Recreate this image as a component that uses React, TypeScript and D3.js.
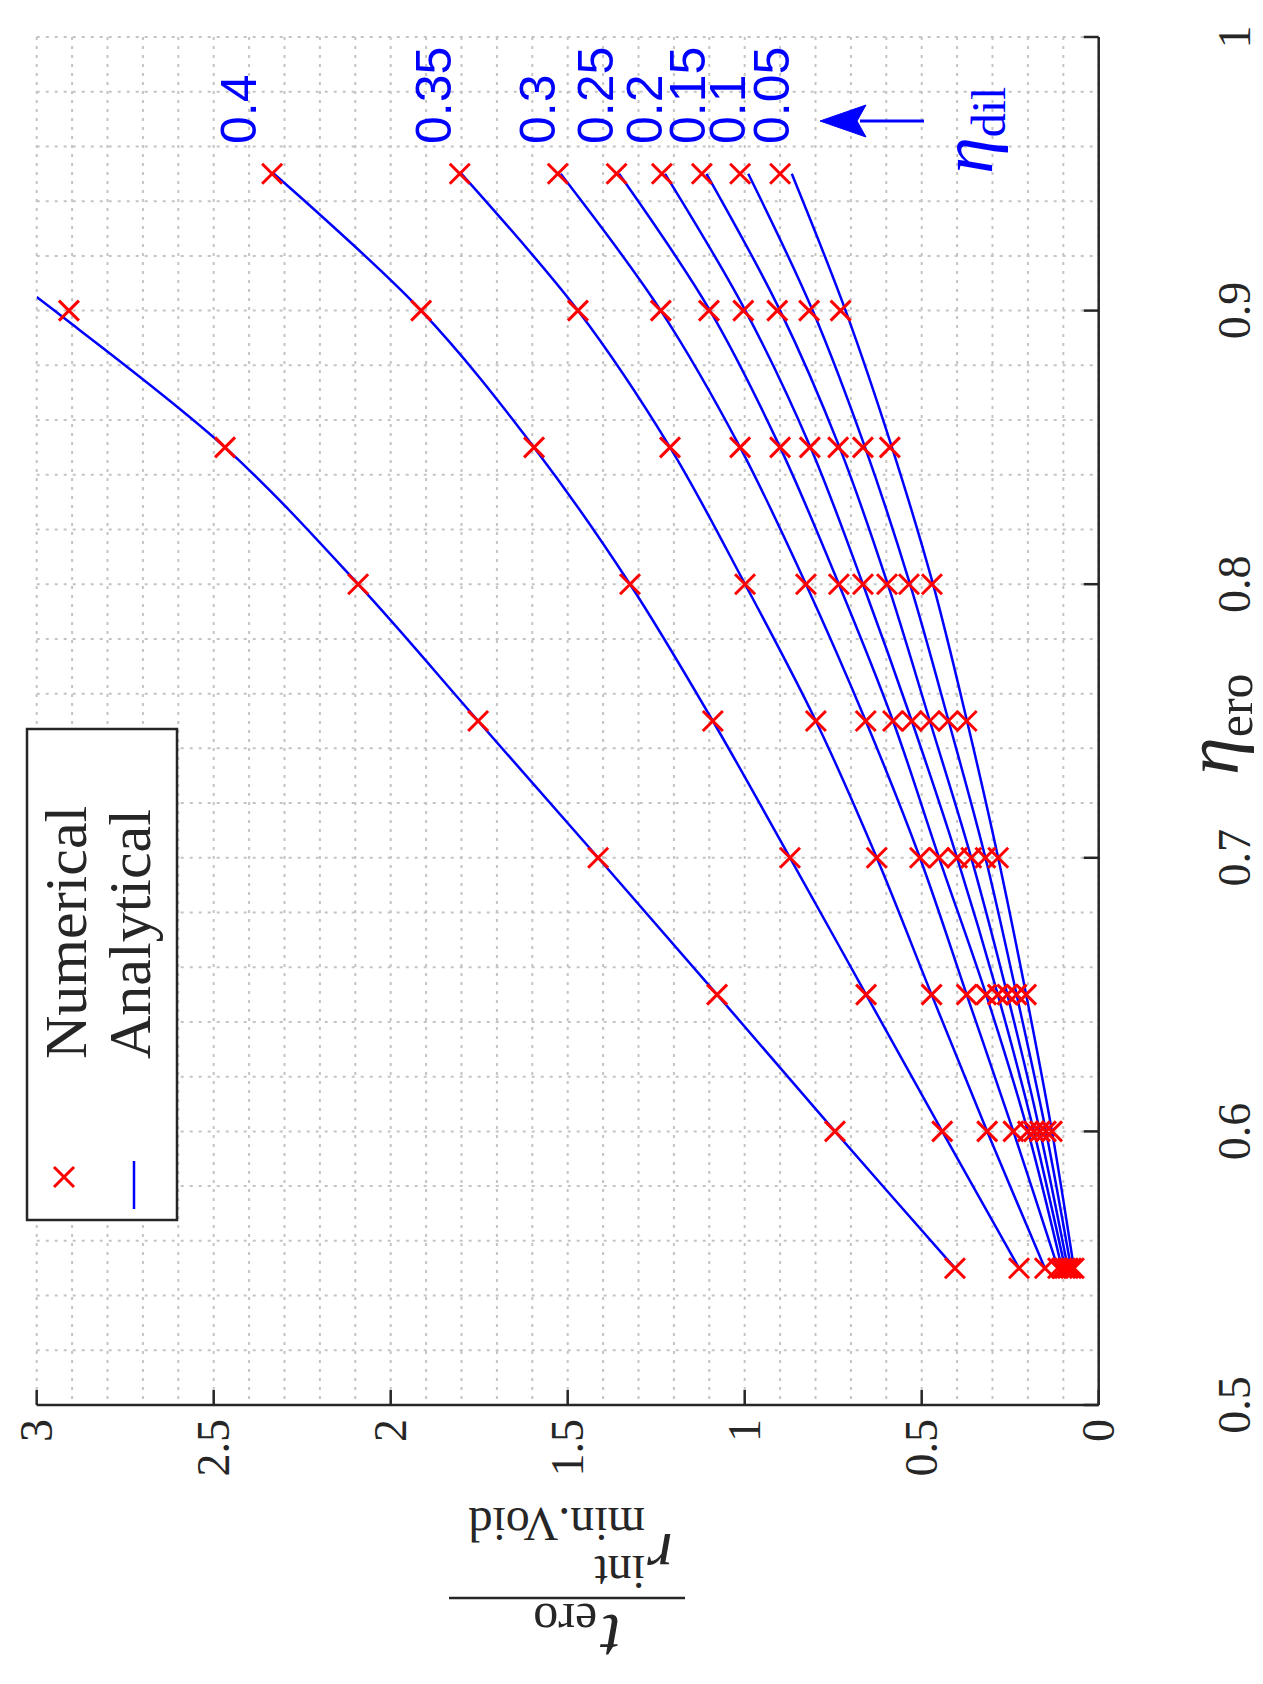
import React, { useEffect } from "react";
import * as d3 from "d3";

// ---------------- data ----------------
const etaEro = [0.55, 0.6, 0.65, 0.7, 0.75, 0.8, 0.85, 0.9, 0.95];
const etaTicks = [0.5, 0.6, 0.7, 0.8, 0.9, 1];
const valueTicks = [0, 0.5, 1, 1.5, 2, 2.5, 3];
const etaTickLabels = ["0.5", "0.6", "0.7", "0.8", "0.9", "1"];
const valueTickLabels = ["0", "0.5", "1", "1.5", "2", "2.5", "3"];

const dilLabels = ["0.4", "0.35", "0.3", "0.25", "0.2", "0.15", "0.1", "0.05"];
const dilLabelValue = [2.38, 1.829, 1.536, 1.372, 1.234, 1.112, 0.998, 0.875];

// numerical results (red crosses), one array per eta_dil
const num045 = [0.406, 0.745, 1.078, 1.414, 1.753, 2.092, 2.468, 2.909];
const num040 = [0.225, 0.442, 0.657, 0.872, 1.09, 1.324, 1.595, 1.914, 2.335];
const num035 = [0.152, 0.315, 0.472, 0.627, 0.799, 0.999, 1.211, 1.471, 1.805];
const num030 = [0.115, 0.241, 0.373, 0.505, 0.658, 0.827, 1.013, 1.237, 1.528];
const num025 = [0.104, 0.2, 0.318, 0.451, 0.581, 0.734, 0.9, 1.101, 1.362];
const num020 = [0.095, 0.183, 0.285, 0.4, 0.528, 0.666, 0.816, 1.004, 1.234];
const num015 = [0.087, 0.166, 0.258, 0.36, 0.477, 0.598, 0.736, 0.908, 1.121];
const num010 = [0.078, 0.149, 0.232, 0.32, 0.425, 0.536, 0.666, 0.818, 1.013];
const num005 = [0.07, 0.132, 0.205, 0.284, 0.373, 0.471, 0.59, 0.729, 0.9];

// analytical results (blue lines)
const ana045Eta = [0.55, 0.6, 0.65, 0.7, 0.75, 0.8, 0.85, 0.9, 0.905];
const ana045 = [0.406, 0.745, 1.078, 1.414, 1.753, 2.092, 2.468, 2.95, 3.0];
const ana040 = [0.225, 0.442, 0.657, 0.872, 1.09, 1.324, 1.595, 1.914, 2.33];
const ana035 = [0.152, 0.315, 0.472, 0.627, 0.799, 0.999, 1.211, 1.471, 1.8];
const ana030 = [0.115, 0.241, 0.373, 0.505, 0.658, 0.827, 1.013, 1.237, 1.52];
const ana025 = [0.104, 0.2, 0.318, 0.451, 0.581, 0.734, 0.9, 1.098, 1.355];
const ana020 = [0.095, 0.183, 0.285, 0.4, 0.528, 0.666, 0.814, 0.998, 1.225];
const ana015 = [0.087, 0.166, 0.258, 0.36, 0.477, 0.596, 0.732, 0.9, 1.108];
const ana010 = [0.078, 0.149, 0.232, 0.32, 0.424, 0.533, 0.66, 0.808, 0.99];
const ana005 = [0.07, 0.132, 0.205, 0.284, 0.372, 0.468, 0.584, 0.715, 0.867];

const numSeries = [num045, num040, num035, num030, num025, num020, num015, num010, num005];
const anaSeries = [ana040, ana035, ana030, ana025, ana020, ana015, ana010, ana005];

// ---------------- layout ----------------
const W = 1263;
const H = 1684;
const PL = 36.7, PR = 1098.7, PT = 37, PB = 1405;

const xV = d3.scaleLinear().domain([0, 3]).range([PR, PL]);
const yE = d3.scaleLinear().domain([0.5, 1]).range([PB, PT]);

const RED = "#ff0000";
const BLUE = "#0000ff";
const AX = "#262626";
const GRID = "#c4c4c4";
const SERIF = "'Liberation Serif', 'DejaVu Serif', serif";
const SANS = "'Liberation Sans', Arial, sans-serif";

const lineGen = d3
  .line<[number, number]>()
  .x((d) => xV(d[0]))
  .y((d) => yE(d[1]))
  .curve(d3.curveCatmullRom.alpha(0.5));

function Cross({ cx, cy, s = 10 }: { cx: number; cy: number; s?: number }) {
  return (
    <g stroke={RED} strokeWidth={3}>
      <line x1={cx - s} y1={cy - s} x2={cx + s} y2={cy + s} />
      <line x1={cx - s} y1={cy + s} x2={cx + s} y2={cy - s} />
    </g>
  );
}

export default function App() {
  useEffect(() => {
    document.body.style.margin = "0";
  }, []);

  const vGrid = d3.range(0, 31).map((i) => i / 10);
  const hGrid = d3.range(0, 26).map((i) => 0.5 + i * 0.02);

  const anaPaths: string[] = [];
  anaPaths.push(lineGen(ana045.map((v, i) => [v, ana045Eta[i]] as [number, number])) || "");
  anaSeries.forEach((s) => {
    anaPaths.push(lineGen(s.map((v, i) => [v, etaEro[i]] as [number, number])) || "");
  });

  return (
    <svg width={W} height={H} style={{ display: "block", background: "#fff" }}>
      <defs>
        <clipPath id="plotclip">
          <rect x={PL} y={PT} width={PR - PL} height={PB - PT} />
        </clipPath>
      </defs>
      <rect x={0} y={0} width={W} height={H} fill="#fff" />

      {/* grid */}
      <g stroke={GRID} strokeWidth={2} strokeDasharray="3,6">
        {vGrid.map((v, i) => (
          <line key={"vg" + i} x1={xV(v)} x2={xV(v)} y1={PT} y2={PB} />
        ))}
        {hGrid.map((e, i) => (
          <line key={"hg" + i} x1={PL} x2={PR} y1={yE(e)} y2={yE(e)} />
        ))}
      </g>

      {/* analytical curves */}
      <g clipPath="url(#plotclip)" fill="none" stroke={BLUE} strokeWidth={2.5}>
        {anaPaths.map((p, i) => (
          <path key={"ap" + i} d={p} />
        ))}
      </g>

      {/* numerical markers */}
      <g clipPath="url(#plotclip)">
        {numSeries.map((s, si) =>
          s.map((v, i) => <Cross key={`m${si}-${i}`} cx={xV(v)} cy={yE(etaEro[i])} />)
        )}
      </g>

      {/* axes */}
      <g stroke={AX} strokeWidth={2.5}>
        <line x1={PR} x2={PR} y1={PT} y2={PB} />
        <line x1={PL} x2={PR} y1={PB} y2={PB} />
        {etaTicks.map((t, i) => (
          <line key={"et" + i} x1={PR} x2={PR - 15} y1={yE(t)} y2={yE(t)} />
        ))}
        {valueTicks.map((t, i) => (
          <line key={"vt" + i} x1={xV(t)} x2={xV(t)} y1={PB} y2={PB - 15} />
        ))}
      </g>

      {/* tick labels */}
      <g fontFamily={SERIF} fontSize={46} fill={AX}>
        {etaTicks.map((t, i) => (
          <text
            key={"etl" + i}
            transform={`translate(${1250},${yE(t)}) rotate(-90)`}
            textAnchor="middle"
          >
            {etaTickLabels[i]}
          </text>
        ))}
        {valueTicks.map((t, i) => (
          <text
            key={"vtl" + i}
            transform={`translate(${xV(t)},${PB + 14}) rotate(-90)`}
            textAnchor="end"
            dy="0.33em"
          >
            {valueTickLabels[i]}
          </text>
        ))}
      </g>

      {/* eta_ero axis label */}
      <text transform={`translate(1238,775) rotate(-90)`} fontFamily={SERIF} fill={AX}>
        <tspan fontStyle="italic" fontSize={76}>η</tspan>
        <tspan fontSize={50} dy={14}>ero</tspan>
      </text>

      {/* y-label: fraction, upside down */}
      <g transform={`translate(567,1598) rotate(180)`} fontFamily={SERIF} fill={AX}>
        <line x1={-118} x2={118} y1={0} y2={0} stroke={AX} strokeWidth={2.5} />
        <text x={-10} y={-17} textAnchor="middle">
          <tspan fontStyle="italic" fontSize={70}>t</tspan>
          <tspan fontSize={50} dy={11} dx={4}>ero</tspan>
        </text>
        <text x={-106} y={64} fontStyle="italic" fontSize={66}>r</text>
        <text x={-78} y={42} fontSize={48}>int</text>
        <text x={-78} y={90} fontSize={48}>min.Void</text>
      </g>

      {/* eta_dil labels */}
      <g fontFamily={SANS} fontSize={50} fill={BLUE}>
        {dilLabels.map((l, i) => (
          <text key={"dl" + i} transform={`translate(${xV(dilLabelValue[i])},144) rotate(-90)`}>
            {l}
          </text>
        ))}
      </g>

      {/* arrow */}
      <g fill={BLUE} stroke={BLUE}>
        <line x1={924} y1={121} x2={860} y2={121} strokeWidth={3} />
        <polygon points="820,121 866,105 857,121 866,137" strokeWidth={1} />
      </g>
      <text transform={`translate(992,174) rotate(-90)`} fontFamily={SERIF} fill={BLUE}>
        <tspan fontStyle="italic" fontSize={74}>η</tspan>
        <tspan fontSize={48} dy={13}>dil</tspan>
      </text>

      {/* legend */}
      <g>
        <rect x={27} y={729} width={150} height={491} fill="#fff" stroke={AX} strokeWidth={2.5} />
        <Cross cx={64} cy={1177} />
        <line x1={134} x2={134} y1={1161} y2={1209} stroke={BLUE} strokeWidth={2.5} />
        <text transform={`translate(86,1059) rotate(-90)`} fontFamily={SERIF} fontSize={60} fill={AX}>
          Numerical
        </text>
        <text transform={`translate(150,1059) rotate(-90)`} fontFamily={SERIF} fontSize={60} fill={AX}>
          Analytical
        </text>
      </g>
    </svg>
  );
}
